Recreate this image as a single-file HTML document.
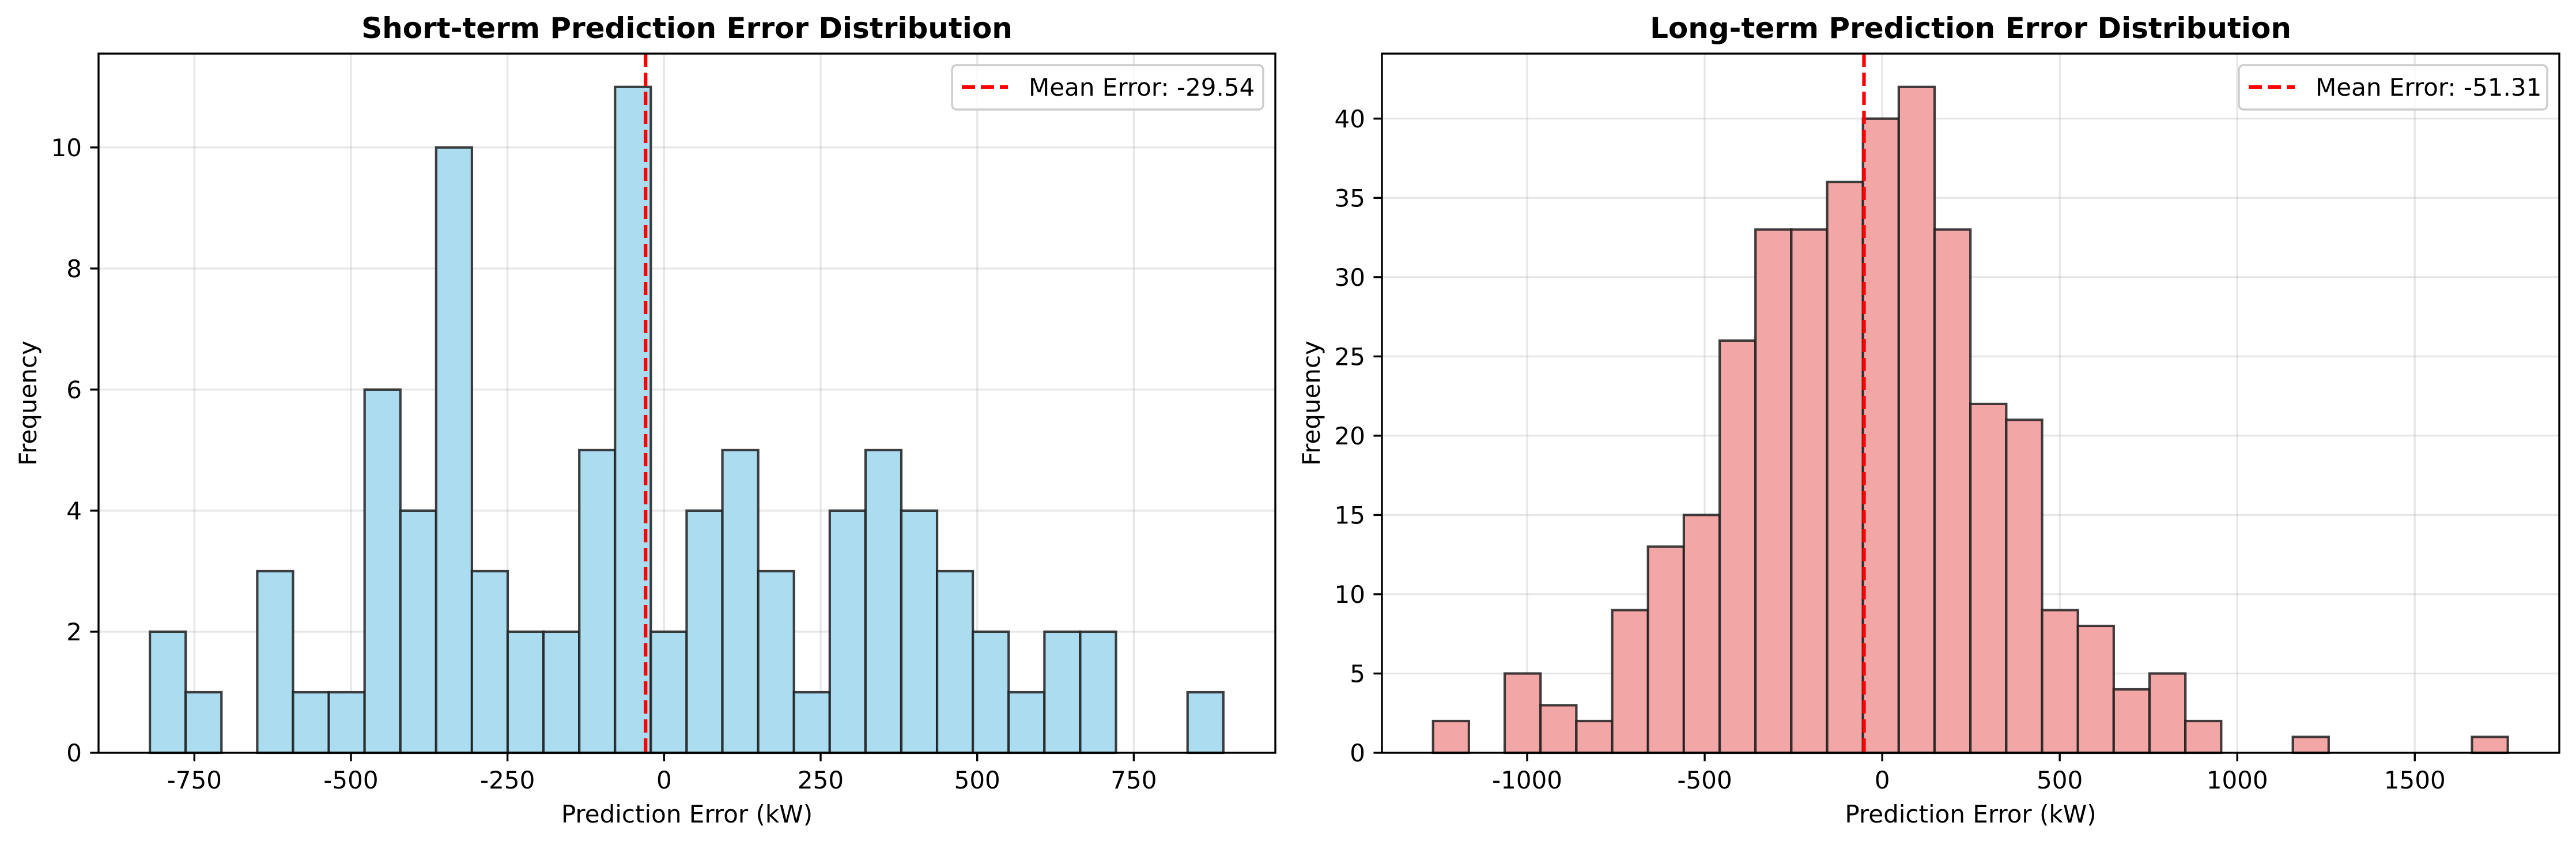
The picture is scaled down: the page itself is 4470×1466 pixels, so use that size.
<!DOCTYPE html>
<html><head><meta charset="utf-8"><style>
html,body{margin:0;padding:0;background:#fff;}
svg{display:block;font-family:"DejaVu Sans","Liberation Sans",sans-serif;}
</style></head><body>
<svg id="chart" width="4470" height="1466" viewBox="0 0 4470 1466" xmlns="http://www.w3.org/2000/svg"></svg>
<script>
// Short-term histogram data
const shortCounts = [2,1,0,3,1,1,6,4,10,3,2,2,5,11,2,4,5,3,1,4,5,4,3,2,1,2,2,0,0,1];
const shortRange = [-821, 893];
const shortMean = -29.54;
const shortXTicks = [-750,-500,-250,0,250,500,750];
const shortYTicks = [0,2,4,6,8,10];
// Long-term histogram data
const longCounts = [2,0,5,3,2,9,13,15,26,33,33,36,40,42,33,22,21,9,8,4,5,2,0,0,1,0,0,0,0,1];
const longRange = [-1265, 1762];
const longMean = -51.31;
const longXTicks = [-1000,-500,0,500,1000,1500];
const longYTicks = [0,5,10,15,20,25,30,35,40];

const NS = "http://www.w3.org/2000/svg";
const svg = document.getElementById('chart');
function mk(tag, attrs, parent, text){
  const e = document.createElementNS(NS, tag);
  for (const k in attrs) e.setAttribute(k, attrs[k]);
  if (text !== undefined) e.textContent = text;
  (parent || svg).appendChild(e);
  return e;
}

function drawPanel(cfg){
  const g = mk('g', {});
  
  
  const L = cfg.left, R = cfg.right, T = 93, B = 1306;
  const x = v => L + (v - cfg.xmin) / (cfg.xmax - cfg.xmin) * (R - L);
  const ymax = Math.max(...cfg.counts) * 1.05;
  const y = v => B - v / ymax * (B - T);
  cfg.xticks.forEach(t => {
    const l = mk('line', {x1:x(t), x2:x(t), y1:T, y2:B, stroke:'#b0b0b0', 'stroke-opacity':0.3, 'stroke-width':3.3}, g);
    
    
  });
  cfg.yticks.forEach(t => {
    const l = mk('line', {x1:L, x2:R, y1:y(t), y2:y(t), stroke:'#b0b0b0', 'stroke-opacity':0.3, 'stroke-width':3.3}, g);
    
    
  });
  const n = cfg.counts.length;
  const w = (cfg.range[1] - cfg.range[0]) / n;
  cfg.counts.forEach((c, i) => {
    const x0 = x(cfg.range[0] + i * w), x1 = x(cfg.range[0] + (i + 1) * w);
    const r = mk('rect', {x:x0, y:y(c), width:x1 - x0, height:B - y(c), fill:cfg.color, stroke:'#1f1f1f', 'stroke-opacity':0.85, 'stroke-width':4.2}, g);
    
    
  });
  const ml = mk('line', {x1:x(cfg.mean), x2:x(cfg.mean), y1:T, y2:B, stroke:'#ff0000', 'stroke-width':6.2, 'stroke-dasharray':'23 10'}, g);
  
  
  const sp = mk('rect', {x:L, y:T, width:R - L, height:B - T, fill:'none', stroke:'#000', 'stroke-width':3.4}, g);
  
  
  cfg.xticks.forEach(t => {
    mk('line', {x1:x(t), x2:x(t), y1:B, y2:B + 14.6, stroke:'#000', 'stroke-width':3.4}, g);
    const tl = mk('text', {x:x(t), y:1368, 'font-size':42, 'text-anchor':'middle', fill:'#000'}, g, t < 0 ? '-' + Math.abs(t) : String(t));
    
    
  });
  cfg.yticks.forEach(t => {
    mk('line', {x1:L - 14.6, x2:L, y1:y(t), y2:y(t), stroke:'#000', 'stroke-width':3.4}, g);
    const tl = mk('text', {x:L - 29, y:y(t) + 15, 'font-size':42, 'text-anchor':'end', fill:'#000'}, g, String(t));
    
    
  });
  const cx = (L + R) / 2;
  const tt = mk('text', {x:cx, y:66, 'font-size':50, 'font-weight':'bold', 'text-anchor':'middle', fill:'#000'}, g, cfg.title);
  
  
  const xl = mk('text', {x:cx, y:1427, 'font-size':42, 'text-anchor':'middle', fill:'#000'}, g, 'Prediction Error (kW)');
  
  
  const yx = L - 108, yc = (T + B) / 2;
  const yl = mk('text', {x:yx, y:yc, 'font-size':42, 'text-anchor':'middle', fill:'#000', transform:`rotate(-90 ${yx} ${yc})`}, g, 'Frequency');
  
  
  const lg = mk('g', {}, g);
  
  
  const lw = cfg.legendW, lx = R - 21 - lw;
  mk('rect', {x:lx, y:113, width:lw, height:77, rx:8, fill:'#fff', 'fill-opacity':0.8, stroke:'#cccccc', 'stroke-width':3.4}, lg);
  const le = mk('line', {x1:lx + 17, x2:lx + 97, y1:151, y2:151, stroke:'#ff0000', 'stroke-width':6.2, 'stroke-dasharray':'23 10'}, lg);
  
  
  const lt = mk('text', {x:lx + 133, y:166, 'font-size':42, fill:'#000'}, lg, 'Mean Error: ' + cfg.mean.toFixed(2));
  
  
}

drawPanel({name:'short-term-panel', left:171, right:2213, xmin:-903, xmax:976,
  counts:shortCounts, range:shortRange, mean:shortMean, xticks:shortXTicks, yticks:shortYTicks,
  color:'#abdcef', title:'Short-term Prediction Error Distribution', legendW:540});
drawPanel({name:'long-term-panel', left:2398, right:4441, xmin:-1409, xmax:1907,
  counts:longCounts, range:longRange, mean:longMean, xticks:longXTicks, yticks:longYTicks,
  color:'#f3a6a6', title:'Long-term Prediction Error Distribution', legendW:535});
</script>
</body></html>
